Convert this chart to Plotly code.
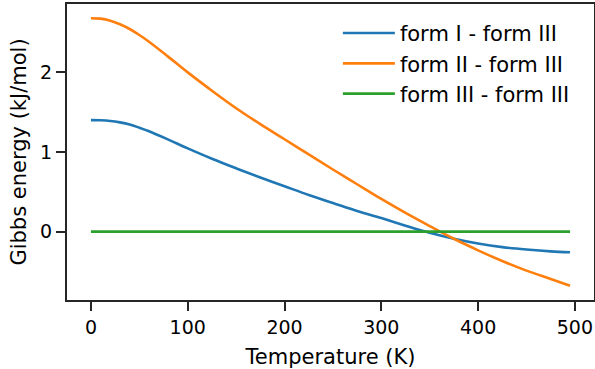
import plotly.graph_objects as go

# Data
temperature = [0, 10, 20, 30, 40, 50, 60, 80, 100, 125, 150, 175, 200, 225, 250,
               275, 300, 325, 350, 375, 400, 425, 450, 475, 495]
form1_minus_form3 = [1.40, 1.398, 1.39, 1.372, 1.345, 1.305, 1.26, 1.155, 1.045, 0.915,
                     0.795, 0.68, 0.57, 0.46, 0.36, 0.26, 0.17, 0.075, -0.015, -0.09,
                     -0.15, -0.195, -0.225, -0.248, -0.26]
form2_minus_form3 = [2.68, 2.675, 2.65, 2.605, 2.545, 2.47, 2.385, 2.195, 2.00, 1.77,
                     1.55, 1.35, 1.16, 0.97, 0.78, 0.595, 0.41, 0.235, 0.07, -0.09,
                     -0.235, -0.37, -0.49, -0.595, -0.68]
form3_minus_form3 = [0.0] * len(temperature)

series_names = ["form I - form III", "form II - form III", "form III - form III"]
series_values = [form1_minus_form3, form2_minus_form3, form3_minus_form3]
series_colors = ["#1f77b4", "#ff7f0e", "#2ca02c"]

x_ticks = [0, 100, 200, 300, 400, 500]
y_ticks = [0, 1, 2]

FONT = "DejaVu Sans"
INK = "#262626"

fig = go.Figure()
for i, (name, vals, col) in enumerate(zip(series_names, series_values, series_colors)):
    fig.add_trace(go.Scatter(
        x=temperature, y=vals, mode="lines", name=name,
        line=dict(color=col, width=2.6, shape="spline", smoothing=1.0),
        legendgroup=f"g{i}",
    ))

axis_common = dict(
    showline=True, linecolor=INK, linewidth=2, mirror=True,
    ticks="outside", ticklen=9, tickwidth=2, tickcolor=INK,
    showgrid=False, zeroline=False, automargin=False,
    tickfont=dict(family=FONT, size=19, color="black"),
)

fig.update_layout(
    width=595, height=369,
    margin=dict(l=67, r=1, t=4, b=69),
    paper_bgcolor="white", plot_bgcolor="white",
    font=dict(family=FONT, color="black"),
    xaxis=dict(range=[-24.75, 519.75], tickvals=x_ticks,
               title=dict(text="Temperature (K)", font=dict(family=FONT, size=21), standoff=20),
               **axis_common),
    yaxis=dict(range=[-0.859, 2.859], tickvals=y_ticks,
               title=dict(text="Gibbs energy (kJ/mol)", font=dict(family=FONT, size=21), standoff=8),
               **axis_common),
    legend=dict(x=0.514, y=0.97, xanchor="left", yanchor="top",
                font=dict(family=FONT, size=21, color="black"),
                bgcolor="rgba(0,0,0,0)", borderwidth=0,
                traceorder="grouped", tracegroupgap=0, itemwidth=52),
    showlegend=True,
)

fig.write_html("out.html")
